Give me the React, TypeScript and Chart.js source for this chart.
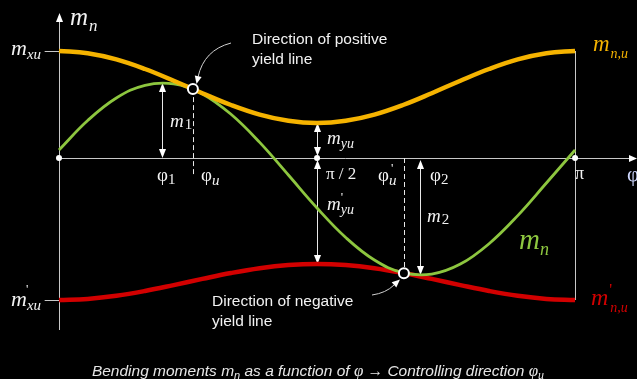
import { useEffect, useRef } from "react";
import { Chart, registerables } from "chart.js";

Chart.register(...registerables);

// Direction of the section φ, in degrees
const phiDeg = [0, 10, 20, 30, 40, 50, 60, 70, 80, 90, 100, 110, 120, 130, 140, 150, 160, 170, 180];
// Positive resisting moment m_n,u
const mnuPos = [107, 104.8, 98.6, 89, 77.3, 64.8, 53, 43.4, 37.2, 35, 37.2, 43.4, 53, 64.8, 77.3, 89, 98.6, 104.8, 107];
// Negative resisting moment m'_n,u
const mnuNeg = [-142, -140.9, -137.8, -133, -127.1, -120.9, -115, -110.2, -107.1, -106, -107.1, -110.2, -115, -120.9, -127.1, -133, -137.8, -140.9, -142];
// Acting bending moment m_n
const mnAct = [8, 37.5, 60.0, 72.7, 74.1, 64.1, 43.7, 15.6, -17.0, -50, -79.5, -102.0, -114.7, -116.1, -106.1, -85.7, -57.6, -25.0, 8];

// Marked directions on the φ axis: 0, π/2, π
const axisMarksDeg = [0, 90, 180];

// Extremes and yield-line directions
const phi1 = 36;
const m1 = 75;
const phi2 = 126;
const m2 = -117;
const phiU = 46.7;
const mAtPhiU = 68.9;
const phiUNeg = 120.3;
const mAtPhiUNeg = -115.2;
const mxu = 107;
const myu = 35;
const mxuNeg = -142;
const myuNeg = -106;

const X_MIN = -20.58;
const X_MAX = 201.6;
const Y_MIN = -221;
const Y_MAX = 158;

const SERIF = '"Liberation Serif", "Times New Roman", serif';
const SANS = '"Liberation Sans", Arial, sans-serif';
const INK = "#f2f2f2";
const GUIDE = "#c8c8c8";
const ORANGE = "#f5b300";
const GREEN = "#8dc63f";
const RED = "#d20000";

function put(ctx: CanvasRenderingContext2D, text: string, x: number, y: number, font: string, color: string) {
  ctx.font = font;
  ctx.fillStyle = color;
  ctx.fillText(text, x, y);
  return x + ctx.measureText(text).width;
}

function head(ctx: CanvasRenderingContext2D, tx: number, ty: number, dx: number, dy: number, len = 9, half = 3.5) {
  const n = Math.hypot(dx, dy);
  const ux = dx / n;
  const uy = dy / n;
  const bx = tx - ux * len;
  const by = ty - uy * len;
  ctx.beginPath();
  ctx.moveTo(tx, ty);
  ctx.lineTo(bx - uy * half, by + ux * half);
  ctx.lineTo(bx + uy * half, by - ux * half);
  ctx.closePath();
  ctx.fill();
}

function vArrow(ctx: CanvasRenderingContext2D, x: number, yTop: number, yBot: number, topHead: boolean, botHead: boolean) {
  ctx.beginPath();
  ctx.moveTo(x, yTop + (topHead ? 4 : 0));
  ctx.lineTo(x, yBot - (botHead ? 4 : 0));
  ctx.stroke();
  if (topHead) head(ctx, x, yTop, 0, -1);
  if (botHead) head(ctx, x, yBot, 0, 1);
}

const overlay = {
  id: "overlay",
  beforeDatasetsDraw(chart: any) {
    const ctx: CanvasRenderingContext2D = chart.ctx;
    const xs = chart.scales.x;
    const ys = chart.scales.y;
    const px = (v: number) => xs.getPixelForValue(v);
    const py = (v: number) => ys.getPixelForValue(v);
    ctx.save();
    ctx.strokeStyle = GUIDE;
    ctx.fillStyle = "#ffffff";
    ctx.lineWidth = 1;

    // φ axis
    const x0 = Math.round(px(0)) + 0.5;
    const y0 = Math.round(py(0)) + 0.5;
    ctx.beginPath();
    ctx.moveTo(x0, y0);
    ctx.lineTo(chart.width - 6, y0);
    ctx.stroke();
    head(ctx, chart.width, y0, 1, 0, 8, 3.5);

    // m_n axis
    ctx.beginPath();
    ctx.moveTo(x0, py(-172));
    ctx.lineTo(x0, py(138));
    ctx.stroke();
    head(ctx, x0, py(145), 0, -1, 9, 3.5);

    // ticks for m_xu and m'_xu
    ctx.beginPath();
    ctx.moveTo(px(-5), py(mxu) + 0.5);
    ctx.lineTo(x0, py(mxu) + 0.5);
    ctx.moveTo(px(-5), py(mxuNeg) + 0.5);
    ctx.lineTo(x0, py(mxuNeg) + 0.5);
    ctx.stroke();

    // vertical at φ = π
    const xPi = Math.round(px(180)) + 0.5;
    ctx.beginPath();
    ctx.moveTo(xPi, py(mxu));
    ctx.lineTo(xPi, py(mxuNeg));
    ctx.stroke();

    // dimension arrows
    ctx.strokeStyle = "#e8e8e8";
    const xp1 = Math.round(px(phi1)) + 0.5;
    vArrow(ctx, xp1, py(m1), py(0), true, true);
    const xHalf = Math.round(px(90)) + 0.5;
    vArrow(ctx, xHalf, py(myu), py(0) - 2, true, true);
    vArrow(ctx, xHalf, py(0) + 2, py(myuNeg), true, true);
    const xp2 = Math.round(px(phi2)) + 0.5;
    vArrow(ctx, xp2, py(0) + 2, py(m2), true, true);

    // yield line directions (dashed)
    ctx.setLineDash([5, 3]);
    const xu = Math.round(px(phiU)) + 0.5;
    ctx.beginPath();
    ctx.moveTo(xu, py(mAtPhiU));
    ctx.lineTo(xu, py(-17));
    ctx.stroke();
    const xuN = Math.round(px(phiUNeg)) + 0.5;
    ctx.beginPath();
    ctx.moveTo(xuN, py(0));
    ctx.lineTo(xuN, py(mAtPhiUNeg));
    ctx.stroke();
    ctx.setLineDash([]);
    ctx.restore();
  },
  afterDatasetsDraw(chart: any) {
    const ctx: CanvasRenderingContext2D = chart.ctx;
    ctx.save();
    ctx.textBaseline = "alphabetic";
    const it = (s: number) => `italic ${s}px ${SERIF}`;
    const rm = (s: number) => `${s}px ${SERIF}`;

    // axis labels
    let e = put(ctx, "m", 70, 25, it(25), INK);
    put(ctx, "n", e + 1, 31, it(17), INK);
    put(ctx, "φ", 627, 181, rm(21), "#cfd8ff");

    e = put(ctx, "m", 11, 55, it(22), INK);
    put(ctx, "xu", e, 59, it(15), INK);
    e = put(ctx, "m", 11, 306, it(22), INK);
    put(ctx, "'", e - 1, 293, rm(13), INK);
    put(ctx, "xu", e, 310, it(15), INK);

    e = put(ctx, "m", 170, 127, it(19), INK);
    put(ctx, "1", e + 1, 129, rm(15), INK);
    e = put(ctx, "φ", 157, 181, rm(19), INK);
    put(ctx, "1", e, 184, rm(15), INK);
    e = put(ctx, "φ", 201, 181, rm(19), INK);
    put(ctx, "u", e, 185, it(15), INK);

    e = put(ctx, "m", 327, 144, it(19), INK);
    put(ctx, "yu", e, 148, it(14), INK);
    put(ctx, "π / 2", 326, 179, rm(17), INK);
    e = put(ctx, "m", 327, 210, it(19), INK);
    put(ctx, "'", e, 201, rm(13), INK);
    put(ctx, "yu", e, 214, it(14), INK);

    e = put(ctx, "φ", 378, 181, rm(19), INK);
    put(ctx, "'", e + 2, 172, rm(13), INK);
    put(ctx, "u", e, 185, it(15), INK);
    e = put(ctx, "φ", 430, 181, rm(19), INK);
    put(ctx, "2", e, 184, rm(15), INK);
    e = put(ctx, "m", 427, 222, it(19), INK);
    put(ctx, "2", e + 1, 224, rm(15), INK);
    put(ctx, "π", 575, 179, rm(18), INK);

    // curve labels
    e = put(ctx, "m", 519, 249, it(29), GREEN);
    put(ctx, "n", e, 255, it(18), GREEN);
    e = put(ctx, "m", 593, 51, it(23), ORANGE);
    put(ctx, "n,u", e + 1, 58, it(14), ORANGE);
    e = put(ctx, "m", 591, 305, it(24), RED);
    put(ctx, "'", e + 1, 295, rm(16), RED);
    put(ctx, "n,u", e + 2, 312, it(14), RED);

    // yield line callouts
    const sans = `15.5px ${SANS}`;
    put(ctx, "Direction of positive", 252, 44, sans, INK);
    put(ctx, "yield line", 252, 64, sans, INK);
    put(ctx, "Direction of negative", 212, 306, sans, INK);
    put(ctx, "yield line", 212, 326, sans, INK);

    ctx.strokeStyle = "#d0d0d0";
    ctx.fillStyle = "#ffffff";
    ctx.lineWidth = 1;
    ctx.beginPath();
    ctx.moveTo(231, 43);
    ctx.quadraticCurveTo(204, 50, 198, 77);
    ctx.stroke();
    head(ctx, 196.5, 84, -0.22, 1, 8, 3.5);
    ctx.beginPath();
    ctx.moveTo(372, 295);
    ctx.quadraticCurveTo(386, 293, 394, 285);
    ctx.stroke();
    head(ctx, 400, 279.5, 0.75, -0.66, 8, 3.5);

    // caption
    const cap = `italic 15.5px ${SANS}`;
    const capS = `italic 11px ${SANS}`;
    const capG = `italic 17px ${SERIF}`;
    const capGs = `italic 12px ${SERIF}`;
    const parts: [string, string, number][] = [
      ["Bending moments m", cap, 0],
      ["n", capS, 3],
      [" as a function of ", cap, 0],
      ["φ", capG, 0],
      [" → Controlling direction ", cap, 0],
      ["φ", capG, 0],
      ["u", capGs, 3],
    ];
    let total = 0;
    for (const [t, f] of parts) {
      ctx.font = f;
      total += ctx.measureText(t).width;
    }
    let cx = 318 - total / 2;
    for (const [t, f, dy] of parts) {
      cx = put(ctx, t, cx, 376 + dy, f, "#e6e6e6");
    }
    ctx.restore();
  },
};

export default function App() {
  const ref = useRef<HTMLCanvasElement | null>(null);

  useEffect(() => {
    const canvas = ref.current;
    if (!canvas) return;
    const pts = (ys: number[]) => phiDeg.map((x, i) => ({ x, y: ys[i] }));
    const chart = new Chart(canvas, {
      type: "line",
      data: {
        datasets: [
          {
            label: "yield directions",
            data: [
              { x: phiU, y: mAtPhiU },
              { x: phiUNeg, y: mAtPhiUNeg },
            ],
            showLine: false,
            pointRadius: 5,
            pointBorderWidth: 2,
            pointBorderColor: "#ffffff",
            pointBackgroundColor: "#000000",
            order: 0,
          },
          {
            label: "axis marks",
            data: axisMarksDeg.map((x) => ({ x, y: 0 })),
            showLine: false,
            pointRadius: 3,
            pointBorderWidth: 0,
            pointBackgroundColor: "#ffffff",
            order: 0,
          },
          {
            label: "m_n,u",
            data: pts(mnuPos),
            borderColor: ORANGE,
            borderWidth: 4.5,
            pointRadius: 0,
            tension: 0.4,
            order: 1,
          },
          {
            label: "m_n",
            data: pts(mnAct),
            borderColor: GREEN,
            borderWidth: 2.8,
            pointRadius: 0,
            tension: 0.4,
            order: 2,
          },
          {
            label: "m'_n,u",
            data: pts(mnuNeg),
            borderColor: RED,
            borderWidth: 4.5,
            pointRadius: 0,
            tension: 0.4,
            order: 3,
          },
        ],
      },
      options: {
        responsive: false,
        animation: false,
        devicePixelRatio: 1,
        events: [],
        layout: { padding: 0, autoPadding: false },
        plugins: { legend: { display: false }, tooltip: { enabled: false } },
        scales: {
          x: { type: "linear", min: X_MIN, max: X_MAX, display: false },
          y: { type: "linear", min: Y_MIN, max: Y_MAX, display: false },
        },
      },
      plugins: [overlay],
    });
    return () => chart.destroy();
  }, []);

  return (
    <div style={{ position: "absolute", left: 0, top: 0, width: 637, height: 379, background: "#000" }}>
      <canvas ref={ref} width={637} height={379} style={{ display: "block" }} />
    </div>
  );
}
